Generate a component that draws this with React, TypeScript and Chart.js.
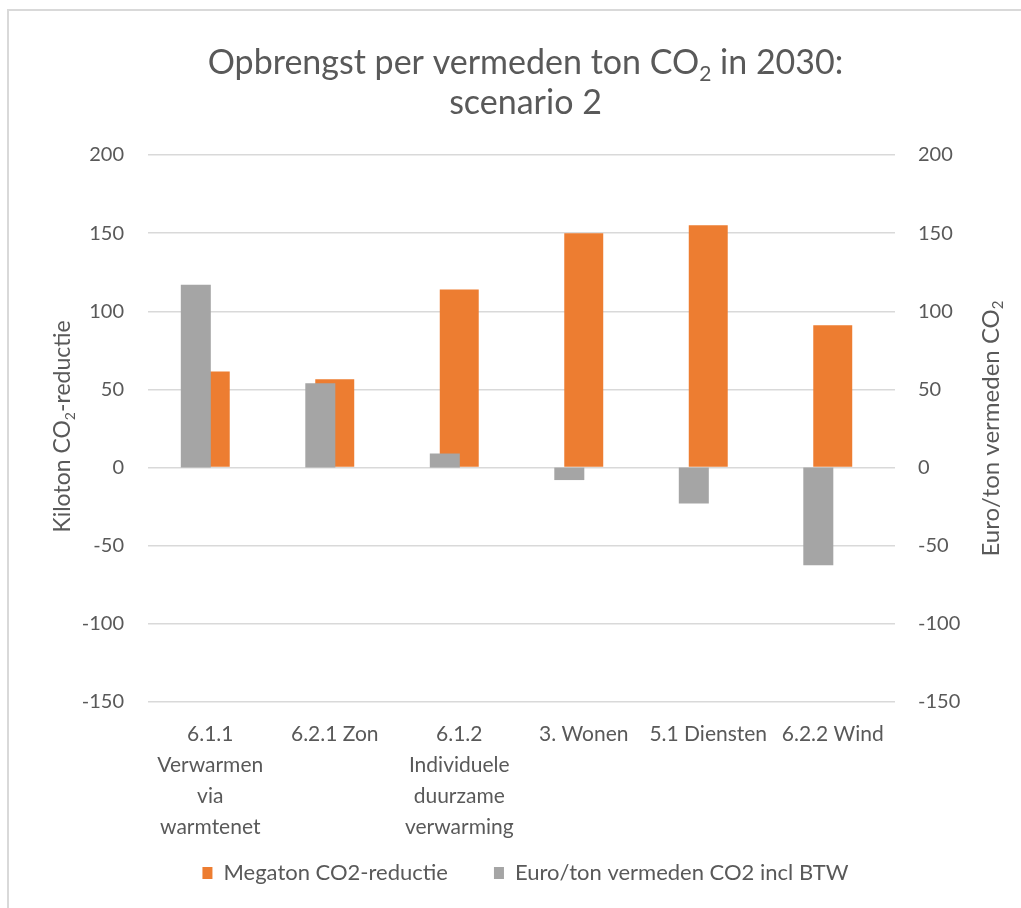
import { useEffect, useRef } from "react";
import { Chart, registerables } from "chart.js";

Chart.register(...registerables);

// Categories (multi-line labels as wrapped under the axis)
const categories: string[][] = [
  ["6.1.1", "Verwarmen", "via", "warmtenet"],
  ["6.2.1 Zon"],
  ["6.1.2", "Individuele", "duurzame", "verwarming"],
  ["3. Wonen"],
  ["5.1 Diensten"],
  ["6.2.2 Wind"],
];

// Series values
const megatonReductie: number[] = [61.5, 56.5, 114, 150, 155, 91];
const euroPerTon: number[] = [117, 54, 9, -8, -23, -62.5];

const seriesNames = ["Megaton CO2-reductie", "Euro/ton vermeden CO2 incl BTW"];

// Axis range shared by both value axes
const axisMin = -150;
const axisMax = 200;
const axisStep = 50;

type Part = { text: string; sub?: boolean };

const titleLine1: Part[] = [
  { text: "Opbrengst per vermeden ton CO" },
  { text: "2", sub: true },
  { text: " in 2030:" },
];
const titleLine2: Part[] = [{ text: "scenario 2" }];
const leftAxisTitle: Part[] = [
  { text: "Kiloton CO" },
  { text: "2", sub: true },
  { text: "-reductie" },
];
const rightAxisTitle: Part[] = [
  { text: "Euro/ton vermeden CO" },
  { text: "2", sub: true },
];

const FONT = "Lato";
const TEXT_COLOR = "#595959";
const ORANGE = "#ED7D31";
const GRAY = "#A5A5A5";
const GRID = "#D9D9D9";

// fraction of a category by which the gray series sits left of centre
const GRAY_SHIFT = 0.116;

function drawRich(
  ctx: CanvasRenderingContext2D,
  parts: Part[],
  cx: number,
  cy: number,
  size: number
) {
  const subSize = Math.round(size * 0.62);
  const widths = parts.map((p) => {
    ctx.font = `${p.sub ? subSize : size}px ${FONT}`;
    return ctx.measureText(p.text).width;
  });
  const total = widths.reduce((a, b) => a + b, 0);
  let x = cx - total / 2;
  const base = cy + size * 0.36;
  ctx.textAlign = "left";
  ctx.textBaseline = "alphabetic";
  parts.forEach((p, i) => {
    ctx.font = `${p.sub ? subSize : size}px ${FONT}`;
    ctx.fillText(p.text, x, p.sub ? base + size * 0.2 : base);
    x += widths[i];
  });
}

// Chart title, axis titles (with subscripts) and the legend row
const decorationsPlugin = {
  id: "decorations",
  afterDraw(chart: Chart) {
    const { ctx, chartArea } = chart;
    ctx.save();
    ctx.fillStyle = TEXT_COLOR;
    const midX = (chartArea.left + chartArea.right) / 2 + 4;
    drawRich(ctx, titleLine1, midX, 62, 34);
    drawRich(ctx, titleLine2, midX, 102, 34);

    const midY = (chartArea.top + chartArea.bottom) / 2;
    ctx.save();
    ctx.translate(chartArea.left - 86, midY - 2);
    ctx.rotate(-Math.PI / 2);
    drawRich(ctx, leftAxisTitle, 0, 0, 23);
    ctx.restore();

    ctx.save();
    ctx.translate(chartArea.right + 95, midY);
    ctx.rotate(-Math.PI / 2);
    drawRich(ctx, rightAxisTitle, 0, 0, 24);
    ctx.restore();

    // legend
    const legendSize = 22;
    const box = 10;
    const boxGap = 11;
    const itemGap = 46;
    const legendY = 873;
    ctx.font = `${legendSize}px ${FONT}`;
    const items = chart.data.datasets.map((ds: any) => ({
      text: ds.label as string,
      color: ds.backgroundColor as string,
      width: box + boxGap + ctx.measureText(ds.label).width,
    }));
    const total =
      items.reduce((a, it) => a + it.width, 0) + itemGap * (items.length - 1);
    let x = midX - total / 2;
    ctx.textBaseline = "middle";
    ctx.textAlign = "left";
    items.forEach((it) => {
      ctx.fillStyle = it.color;
      ctx.fillRect(x, legendY - box / 2 - 1, box, box + 2);
      ctx.fillStyle = TEXT_COLOR;
      ctx.fillText(it.text, x + box + boxGap, legendY);
      x += it.width + itemGap;
    });
    ctx.restore();
  },
};

const PLOT_TOP = 155;
const PLOT_BOTTOM = 702;
const PLOT_LEFT = 148;
const PLOT_RIGHT = 895;
const PAD_BOTTOM = 50;

export default function App() {
  const canvasRef = useRef<HTMLCanvasElement | null>(null);

  useEffect(() => {
    if (!canvasRef.current) return;
    const tickFont = { family: FONT, size: 20 };
    const chart = new Chart(canvasRef.current, {
      type: "bar",
      data: {
        labels: categories,
        datasets: [
          {
            label: seriesNames[0],
            data: megatonReductie,
            backgroundColor: ORANGE,
            xAxisID: "x",
            yAxisID: "y",
            grouped: false,
            categoryPercentage: 1,
            barPercentage: 0.313,
            order: 1,
          },
          {
            label: seriesNames[1],
            data: euroPerTon.map((v, i) => ({ x: i, y: v })),
            backgroundColor: GRAY,
            xAxisID: "x2",
            yAxisID: "y2",
            grouped: false,
            categoryPercentage: 1,
            barPercentage: 0.241,
            order: 0,
          },
        ],
      },
      options: {
        responsive: false,
        animation: false,
        devicePixelRatio: 1,
        layout: {
          padding: { top: PLOT_TOP, left: 0, right: 0, bottom: PAD_BOTTOM },
        },
        plugins: {
          title: { display: false },
          tooltip: { enabled: false },
          legend: { display: false },
        },
        scales: {
          x: {
            type: "category",
            grid: { display: false, drawTicks: false },
            border: { display: false },
            ticks: {
              color: TEXT_COLOR,
              font: { family: FONT, size: 21, lineHeight: 1.47 },
              padding: 17,
              maxRotation: 0,
              autoSkip: false,
            },
            afterFit: (s: any) => {
              s.height = s.chart.height - PAD_BOTTOM - PLOT_BOTTOM;
            },
          },
          x2: {
            type: "linear",
            display: false,
            offset: false,
            grid: { offset: false },
            min: -0.5 + GRAY_SHIFT,
            max: categories.length - 0.5 + GRAY_SHIFT,
            ticks: { stepSize: 1, includeBounds: false },
          },
          y: {
            position: "left",
            min: axisMin,
            max: axisMax,
            ticks: {
              stepSize: axisStep,
              color: TEXT_COLOR,
              font: tickFont,
              padding: 24,
            },
            grid: { color: GRID, lineWidth: 1.5, drawTicks: false },
            border: { display: false },
            afterFit: (s: any) => {
              s.width = PLOT_LEFT;
            },
          },
          y2: {
            position: "right",
            min: axisMin,
            max: axisMax,
            ticks: {
              stepSize: axisStep,
              color: TEXT_COLOR,
              font: tickFont,
              padding: 23,
            },
            grid: { display: false, drawTicks: false },
            border: { display: false },
            afterFit: (s: any) => {
              s.width = 1021 - PLOT_RIGHT;
            },
          },
        },
      },
      plugins: [decorationsPlugin],
    } as any);
    return () => chart.destroy();
  }, []);

  return (
    <div
      style={{
        position: "absolute",
        left: 0,
        top: 0,
        width: 1021,
        height: 908,
        overflow: "hidden",
        background: "#fff",
      }}
    >
      <div
        style={{
          position: "absolute",
          left: 7,
          top: 9,
          width: 1100,
          height: 1000,
          borderTop: `2px solid ${GRID}`,
          borderLeft: `2px solid ${GRID}`,
        }}
      />
      <canvas
        ref={canvasRef}
        width={1021}
        height={908}
        style={{ position: "absolute", left: 0, top: 0, width: 1021, height: 908 }}
      />
    </div>
  );
}
